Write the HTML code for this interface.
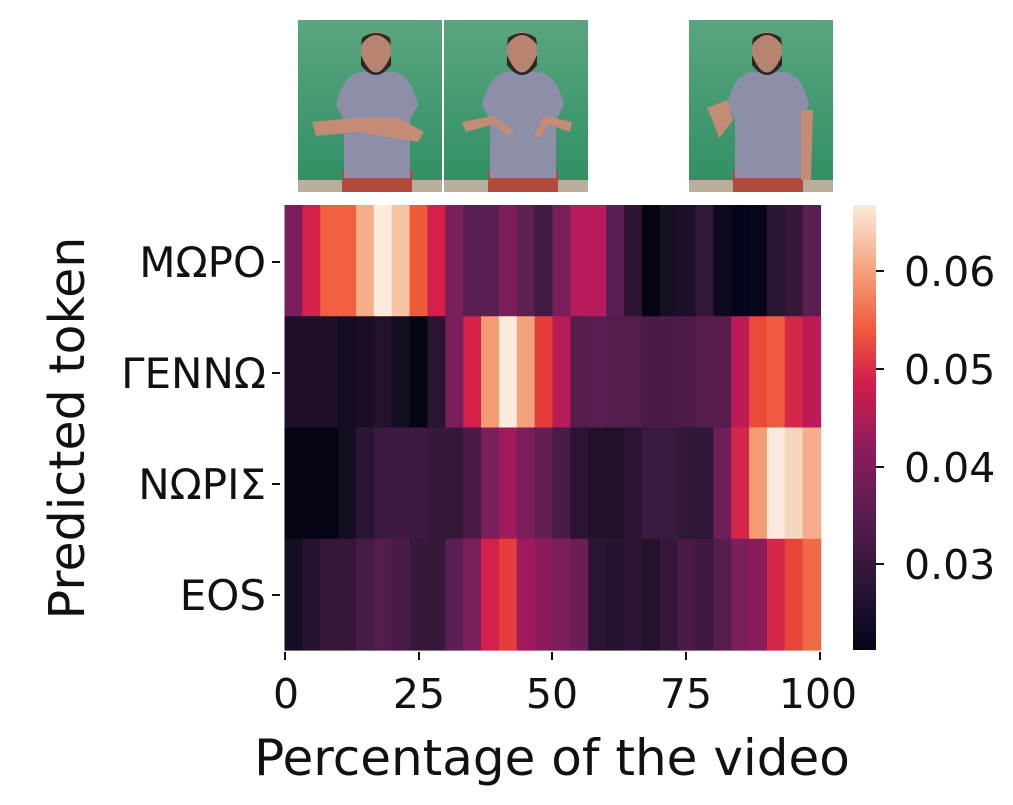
<!DOCTYPE html>
<html><head><meta charset="utf-8"><style>
body{margin:0;background:#fff;}
svg text{font-family:"DejaVu Sans","Liberation Sans",sans-serif;fill:#111;}
</style></head><body>
<svg id="s" width="1013" height="800" xmlns="http://www.w3.org/2000/svg">
<defs>
<linearGradient id="bg" x1="0" y1="0" x2="0" y2="1"><stop offset="0" stop-color="#5aa57f"/><stop offset="1" stop-color="#2f8f62"/></linearGradient>
<linearGradient id="cb" x1="0" y1="1" x2="0" y2="0">
<stop offset="0" stop-color="#03051a"/><stop offset="0.15" stop-color="#2c1535"/><stop offset="0.3" stop-color="#581d4f"/><stop offset="0.45" stop-color="#8c1c5c"/><stop offset="0.6" stop-color="#cf1f4a"/><stop offset="0.72" stop-color="#ef5a3c"/><stop offset="0.85" stop-color="#f5a07a"/><stop offset="1" stop-color="#faebdd"/></linearGradient>
<g id="person">
<rect x="0" y="0" width="144" height="172" fill="url(#bg)"/>
<rect x="0" y="160" width="144" height="12" fill="#b9ad9c"/>
<rect x="44" y="150" width="70" height="22" fill="#b34a3c"/>
<path d="M38 85 Q45 55 62 52 L96 52 Q113 55 120 85 L112 100 L112 158 L46 158 L46 100Z" fill="#8d8ea8"/>
<ellipse cx="78" cy="32" rx="15" ry="20" fill="#b88472"/>
<path d="M63 35 Q78 70 93 35 L93 45 Q78 65 63 45Z" fill="#2e2622"/>
<path d="M63 25 Q78 5 93 25 L92 18 Q78 8 64 18Z" fill="#2e2622"/>
</g>
</defs>
<g transform="translate(298,20)"><use href="#person"/><path d="M14 102 L56 98 L100 98 L126 112 L120 122 L60 112 L18 116Z" fill="#c48c77"/></g>
<g transform="translate(444,20)"><use href="#person"/><path d="M18 102 L50 96 L70 112 L64 116 L50 104 L22 112Z M128 102 L100 96 L90 116 L96 118 L104 104 L126 112Z" fill="#c48c77"/></g>
<g transform="translate(689,20)"><use href="#person"/><path d="M18 88 L38 80 L44 100 L30 118 L24 102Z M112 90 L124 90 L122 160 L112 160Z" fill="#c48c77"/></g>
<rect x="442" y="18" width="2" height="176" fill="#fff"/>
<g id="hm"></g>
<rect x="853" y="205" width="23" height="445" fill="url(#cb)"/>
<g stroke="#111" stroke-width="2">
<line x1="272" y1="262" x2="280" y2="262"/><line x1="272" y1="373" x2="280" y2="373"/><line x1="272" y1="484" x2="280" y2="484"/><line x1="272" y1="595" x2="280" y2="595"/>
<line x1="285" y1="652" x2="285" y2="660"/><line x1="419" y1="652" x2="419" y2="660"/><line x1="552" y1="652" x2="552" y2="660"/><line x1="686" y1="652" x2="686" y2="660"/><line x1="820" y1="652" x2="820" y2="660"/>
<line x1="876" y1="271" x2="884" y2="271"/><line x1="876" y1="369" x2="884" y2="369"/><line x1="876" y1="467" x2="884" y2="467"/><line x1="876" y1="564" x2="884" y2="564"/>
</g>
<g font-size="42" text-anchor="end">
<text x="266" y="277">ΜΩΡΟ</text><text x="266" y="388">ΓΕΝΝΩ</text><text x="266" y="499">ΝΩΡΙΣ</text><text x="266" y="610">EOS</text>
</g>
<g font-size="41" text-anchor="middle">
<text x="286" y="708">0</text><text x="419" y="708">25</text><text x="552" y="708">50</text><text x="686" y="708">75</text><text x="818" y="708">100</text>
</g>
<g font-size="41"><text x="904" y="286">0.06</text><text x="904" y="384">0.05</text><text x="904" y="482">0.04</text><text x="904" y="579">0.03</text></g>
<text x="552" y="775" font-size="50" text-anchor="middle">Percentage of the video</text>
<text transform="translate(84,428) rotate(-90)" font-size="49" text-anchor="middle">Predicted token</text>
</svg>
<script>
var rows=[
"7a1f5c d4204a f0603e f0603e f5ad8a faebdd f6c4a3 ef5a3c d4204a 7a1f5c 5a1f52 5a1f52 7a1f5c 5e1f53 401a40 7a1f5c b81a5a b81a5a 5a1f52 2e1535 030515 170f23 1f1029 321838 0c0a1c 03051a 060718 2a1533 351838 5a1f52",
"1f1029 1d1027 1d1027 140c20 1a0e25 221129 140c20 030515 2a1432 7a1f5c d4204a f39b71 faebdd f4a27c e63c3c b81a5a 561d4d 5a1f52 521d4c 521d4c 4a1b48 4a1b48 4c1b49 561d4d 561d4d bb1a57 ea4a3a f05a40 d42648 bb1a57",
"030515 020414 020414 140c20 2a1535 3a1a40 3e1a42 3e1a42 361838 351838 4a1b48 7a1f5c a0195a 7a1f5c 621e54 4a1b48 2a1432 1f1127 1f1127 2c1534 3a1a40 3a1a40 321838 2e1636 6e1e58 d42648 f39b71 faeadb f5d6bf f5ad8a",
"160e22 261330 351838 351838 461b46 521d4c 4a1b48 361838 361838 5a1f52 7a1f5c d4204a e63c3c a0195a 8a1c5c 7a1f5c 6a1e56 2a1432 261330 2e1535 221129 351838 4a1b48 3e1a42 561d4d 7a1f5c 8a1c5c d42648 e8453a f06a44"];
var g=document.getElementById('hm'),h='',w=536/30,rh=445/4;
rows.forEach(function(r,i){r.split(' ').forEach(function(c,j){
h+='<rect x="'+(284.5+j*w).toFixed(2)+'" y="'+(205+i*rh).toFixed(2)+'" width="'+(w+0.6).toFixed(2)+'" height="'+(rh+0.6).toFixed(2)+'" fill="#'+c+'"/>';});});
g.innerHTML=h;
</script>
</body></html>
